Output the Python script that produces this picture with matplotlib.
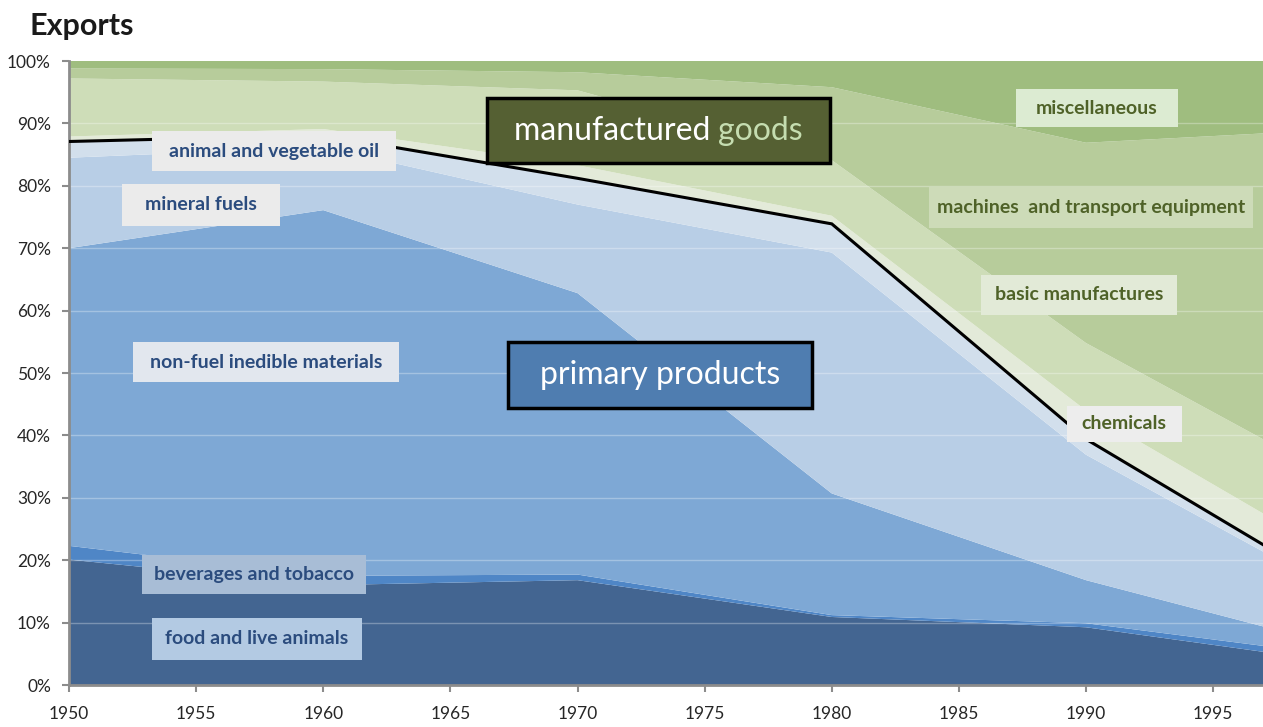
import matplotlib
matplotlib.use("Agg")
import matplotlib.pyplot as plt
from matplotlib.patches import Rectangle

plt.rcParams["font.family"] = ["Lato", "DejaVu Sans"]

# Export shares (% of total), bottom to top
years = [1950, 1960, 1970, 1980, 1990, 1997]
food = [20.1, 16.0, 16.8, 10.9, 9.25, 5.3]
beverages = [2.2, 1.5, 0.9, 0.3, 0.65, 0.95]
nonfuel = [47.7, 58.6, 45.1, 19.5, 6.9, 3.1]
mineral = [14.5, 10.1, 14.2, 38.6, 20.1, 11.95]
oil = [2.6, 1.9, 4.2, 4.6, 2.5, 1.1]
chemicals = [0.8, 1.0, 2.1, 1.3, 4.6, 5.0]
basic = [9.3, 7.6, 12.0, 8.9, 10.8, 11.9]
machines = [1.6, 2.0, 2.9, 11.7, 32.1, 49.1]
misc = [1.2, 1.3, 1.8, 4.2, 13.1, 11.6]

COLORS = ["#436591", "#4F86C6", "#7EA8D5", "#B8CEE6", "#D2DFEC",
          "#E3EAD9", "#CEDDB8", "#B7CC9B", "#9FBD7F"]

W, H = 1263, 727
fig = plt.figure(figsize=(W / 100, H / 100), dpi=100)
ax = fig.add_axes([69 / W, 42 / H, (1264 - 69) / W, 624 / H])

series = [food, beverages, nonfuel, mineral, oil, chemicals, basic, machines, misc]
ax.stackplot(years, *series, colors=COLORS, linewidth=0, zorder=1)

# faint gridlines over the areas
for v in range(10, 100, 10):
    ax.axhline(v, color="white", linewidth=1, alpha=0.3, zorder=2)

# primary products total
primary = [a + b + c + d + e for a, b, c, d, e in zip(food, beverages, nonfuel, mineral, oil)]
ax.plot(years, primary, color="black", linewidth=2.2, zorder=3, solid_joinstyle="miter")

ax.set_xlim(1950, 1997)
ax.set_ylim(0, 100)
ax.set_xticks(range(1950, 1996, 5))
ax.set_yticks(range(0, 101, 10))
ax.set_yticklabels([f"{v}%" for v in range(0, 101, 10)])
for s in ["top", "right"]:
    ax.spines[s].set_visible(False)
for s in ["left", "bottom"]:
    ax.spines[s].set_color("#8C8C8C")
    ax.spines[s].set_linewidth(2)
ax.tick_params(axis="both", direction="out", length=5, width=1.5, color="#8C8C8C",
               labelsize=12.5, labelcolor="#262626")
ax.tick_params(axis="x", pad=10)
ax.tick_params(axis="y", pad=8)

fig.text(30 / W, 1 - 26 / H, "Exports", fontsize=22, fontweight="bold",
         color="#1A1A1A", va="center", ha="left")


def px_to_data(px, py):
    return 1950 + (px - 69) / 25.43, (685 - py) / 6.24


def boxed_label(x0, y0, x1, y1, text, fc, tc, size=14, weight="bold", edge=None):
    (dx0, dy1), (dx1, dy0) = px_to_data(x0, y0), px_to_data(x1, y1)
    rect = Rectangle((dx0, dy0), dx1 - dx0, dy1 - dy0, facecolor=fc,
                     edgecolor=edge if edge else "none", linewidth=2.5 if edge else 0,
                     zorder=5, clip_on=False)
    ax.add_patch(rect)
    t = ax.text((dx0 + dx1) / 2, (dy0 + dy1) / 2, text, ha="center", va="center",
                color=tc, fontsize=size, fontweight=weight, zorder=6)
    return t


BLUE_TXT = "#2B4C7E"
GREEN_TXT = "#4F6228"

boxed_label(152, 131, 396, 171, "animal and vegetable oil", "#EBEBEB", BLUE_TXT)
boxed_label(122, 184, 280, 226, "mineral fuels", "#EBEBEB", BLUE_TXT)
boxed_label(133, 342, 399, 382, "non-fuel inedible materials", "#E2E7EE", BLUE_TXT)
boxed_label(142, 555, 366, 594, "beverages and tobacco", "#A8BDD6", BLUE_TXT)
boxed_label(152, 618, 362, 660, "food and live animals", "#B3CAE3", BLUE_TXT)

boxed_label(1016, 89, 1178, 127, "miscellaneous", "#DCEBD2", GREEN_TXT)
boxed_label(929, 187, 1253, 228, "machines  and transport equipment", "#CDDBB8", GREEN_TXT)
boxed_label(981, 275, 1177, 315, "basic manufactures", "#E2EAD7", GREEN_TXT)
boxed_label(1067, 406, 1182, 442, "chemicals", "#EDEDED", GREEN_TXT)

BIG = 23
boxed_label(508, 342, 812, 408, "primary products", "#4F7DB0", "white",
            size=BIG, weight="normal", edge="black")

# manufactured goods: two-colour text
mg = boxed_label(487, 98, 830, 163, "", "#556033", "white", size=BIG,
                 weight="normal", edge="black")
cx, cy = mg.get_position()
fig.canvas.draw()
r = fig.canvas.get_renderer()
t1 = ax.text(0, 0, "manufactured ", fontsize=BIG, color="white")
t2 = ax.text(0, 0, "goods", fontsize=BIG, color="#C5DDB0")
w1 = t1.get_window_extent(r).width
w2 = t2.get_window_extent(r).width
t1.remove()
t2.remove()
cxp, cyp = ax.transData.transform((cx, cy))
left = cxp - (w1 + w2) / 2
inv = ax.transData.inverted()
x1d, _ = inv.transform((left, cyp))
x2d, _ = inv.transform((left + w1, cyp))
ax.text(x1d, cy, "manufactured ", fontsize=BIG, color="white", ha="left", va="center", zorder=6)
ax.text(x2d, cy, "goods", fontsize=BIG, color="#C5DDB0", ha="left", va="center", zorder=6)

fig.savefig("out.png", dpi=100)
